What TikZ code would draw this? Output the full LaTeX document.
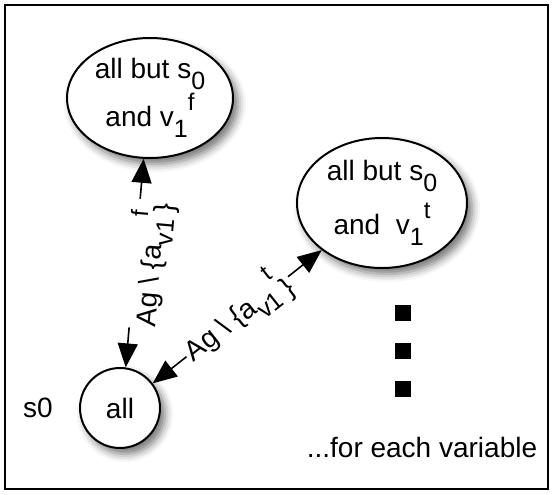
\documentclass[tikz,border=0pt]{standalone}
\usepackage{fontspec}
\setmainfont{Liberation Sans}
\usepackage{tikz}
\usetikzlibrary{positioning, shapes.geometric, arrows.meta, shadows.blur}

\newcommand{\lo}[1]{\raisebox{-0.38em}{\fontsize{12.5}{12.5}\selectfont #1}}
\newcommand{\hi}[1]{\raisebox{0.6em}{\fontsize{12}{12}\selectfont #1}}

\tikzset{
    world/.style={ellipse, draw, line width=1pt, fill=white, inner sep=0pt, align=center,
        blur shadow={shadow xshift=2.5pt, shadow yshift=-3pt, shadow blur radius=4pt, shadow opacity=55}},
    move/.style={{Triangle[length=12pt,width=10pt]}-{Triangle[length=12pt,width=10pt]}, line width=0.8pt},
    movelabel/.style={sloped, fill=white, inner sep=1pt},
    dotsq/.style={fill=black, minimum size=8pt, inner sep=0pt}
}

\begin{document}
\begin{tikzpicture}[x=0.5pt, y=-0.5pt, font=\fontsize{14}{24}\selectfont]
    \useasboundingbox (0,0) rectangle (553,494);
    \draw[line width=1pt] (5,5) rectangle (548,489);

    \node[world, minimum width=83pt, minimum height=60pt] (e1) at (150,98) {all but s\lo{0}\\and v\lo{1}\hi{f}};
    \node[world, minimum width=85pt, minimum height=65pt] (e2) at (382,203) {all but s\lo{0}\\[3pt]and\ \ v\lo{1}\hi{t}};
    \node[world, circle, minimum size=40pt] (c0) at (120,408) {all};
    \node[left=13pt of c0, inner sep=0pt] (s0) {s0};

    \draw[move] (c0.82) -- node[movelabel, yshift=-8pt] {Ag \textbackslash\ \{a\lo{v1}\hi{f}\raisebox{-0.3em}{\}}} (e1.264);
    \draw[move] (c0.37) -- node[movelabel] {Ag \textbackslash\ \{a\lo{v1}\hi{t}\raisebox{-0.3em}{\}}} (e2.218);

    \foreach \y [count=\i] in {313,351,389}
        \node[dotsq] (dot\i) at (403,\y) {};
    \node (note) at (422,447) {...for each variable};
\end{tikzpicture}
\end{document}
